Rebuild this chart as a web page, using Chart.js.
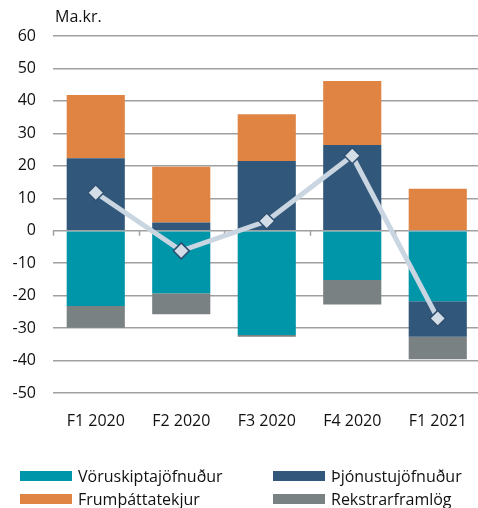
<!DOCTYPE html>
<html><head><meta charset="utf-8">
<script src="https://cdn.jsdelivr.net/npm/chart.js@4/dist/chart.umd.min.js"></script>
<style>
html,body{margin:0;padding:0;background:#fff;overflow:hidden;width:478px;height:508px;}
#wrap{position:absolute;left:0;top:0;width:490px;height:508px;}
#unit{position:absolute;left:55px;top:5px;font:16px "Open Sans";color:#111;}
.lg{position:absolute;font:16px "Open Sans";color:#111;display:flex;align-items:center;white-space:nowrap;}
.sw{display:inline-block;width:52px;height:10px;margin-right:6px;}
</style></head>
<body>
<div id="wrap"><canvas id="c" width="490" height="508"></canvas></div>
<div id="unit">Ma.kr.</div>
<div id="legend"></div>
<script>
const categories = ['F1 2020','F2 2020','F3 2020','F4 2020','F1 2021'];
const seriesNames = ['Vöruskiptajöfnuður','Þjónustujöfnuður','Frumþáttatekjur','Rekstrarframlög'];
const goods     = [-23.2, -19.3, -32.1, -15.2, -21.7];
const services  = [22.3, 2.5, 21.5, 26.4, -11.0];
const primary   = [19.5, 17.2, 14.4, 19.7, 12.9];
const transfers = [-6.7, -6.4, -0.6, -7.5, -6.9];
const balance   = [11.7, -6.2, 3.0, 23.1, -27.0];
const yTicks = [60,50,40,30,20,10,0,-10,-20,-30,-40,-50];
const colors = ['#0096a9','#31577a','#e08443','#798183'];

const barData = [goods, services, primary, transfers];
const datasets = barData.map((d,i)=>({
  type:'bar', label:seriesNames[i], data:d, backgroundColor:colors[i],
  stack:'s', order:1, categoryPercentage:1, barPercentage:0.68
}));
datasets.push({
  type:'line', label:'Viðskiptajöfnuður', data:balance, stack:'line', order:0,
  borderColor:'#c9d5e1', borderWidth:5, pointStyle:'rectRot', pointRadius:8,
  pointBackgroundColor:'#d3dde8', pointBorderColor:'#2f4f70', pointBorderWidth:1.5,
  tension:0
});

const zeroTicks = {
  id:'zeroTicks',
  beforeDatasetsDraw(chart){
    const {ctx, scales:{x,y}} = chart;
    const y0 = y.getPixelForValue(0);
    const n = categories.length;
    const step = (x.getPixelForValue(1) - x.getPixelForValue(0));
    ctx.save();
    ctx.strokeStyle = '#a0a0a0'; ctx.lineWidth = 1.5;
    for(let i=0;i<=n;i++){
      const px = Math.round(x.getPixelForValue(i) - step/2) + 0.5;
      ctx.beginPath(); ctx.moveTo(px, y0); ctx.lineTo(px, y0+5); ctx.stroke();
    }
    ctx.restore();
  }
};

new Chart(document.getElementById('c'), {
  data:{labels:categories, datasets},
  plugins:[zeroTicks],
  options:{
    responsive:false, animation:false,
    layout:{padding:{top:36,right:2,bottom:75,left:0}},
    plugins:{legend:{display:false}, tooltip:{enabled:false}},
    scales:{
      x:{stacked:true, grid:{display:false}, border:{display:false},
        ticks:{color:'#111', font:{family:'Open Sans', size:16}, padding:11},
        afterFit(s){ s.height = 40; }},
      y:{stacked:true, min:-50, max:60, border:{display:false},
        afterBuildTicks(s){ s.ticks = yTicks.map(v=>({value:v})); },
        grid:{color:'#a0a0a0', lineWidth:1.5, drawTicks:false},
        ticks:{color:'#111', font:{family:'Open Sans', size:16}, padding:17, stepSize:10},
        afterFit(s){ s.width = 53; }}
    }
  }
});

const lg = document.getElementById('legend');
const pos = [[20,465],[273,465],[20,488],[273,488]];
seriesNames.forEach((n,i)=>{
  const d = document.createElement('div');
  d.className='lg'; d.style.left=pos[i][0]+'px'; d.style.top=pos[i][1]+'px';
  d.innerHTML = '<span class="sw" style="background:'+colors[i]+'"></span>' + n;
  lg.appendChild(d);
});
</script>
</body></html>
